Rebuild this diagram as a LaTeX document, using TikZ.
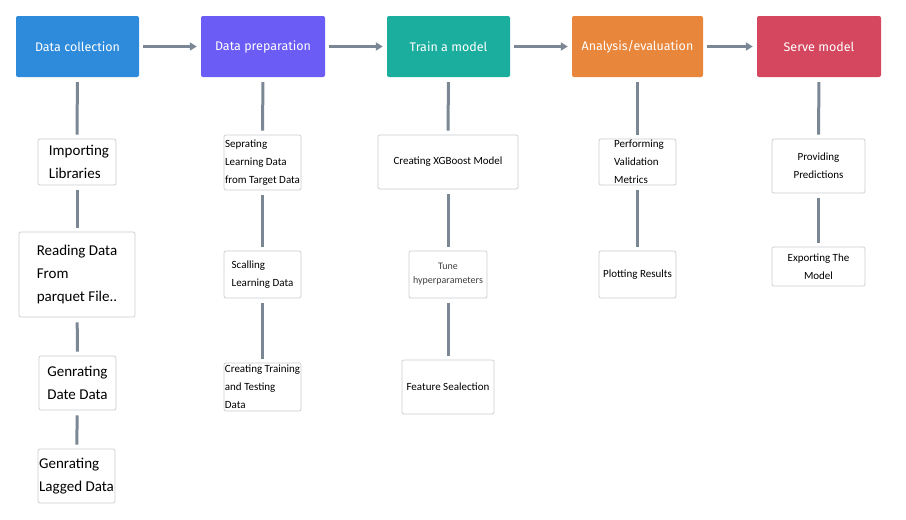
\documentclass[tikz,border=0pt]{standalone}
\usepackage{fontspec}
\setmainfont{Carlito}
\newfontfamily\headfont{Fira Sans}
\usetikzlibrary{arrows.meta}
\definecolor{cblue}{HTML}{2E8BDC}
\definecolor{cpurple}{HTML}{6A5CF5}
\definecolor{cteal}{HTML}{1BAE9E}
\definecolor{corange}{HTML}{E8863B}
\definecolor{cred}{HTML}{D4475E}
\definecolor{conn}{HTML}{7B8794}
\definecolor{bord}{HTML}{C9CDD2}
\tikzset{
  head/.style={rectangle, rounded corners=2pt, draw=none, text=white,
    font=\headfont\fontsize{12.5}{14}\selectfont, inner sep=0pt},
  sub/.style={rectangle, rounded corners=2pt, draw=bord, line width=0.7pt, fill=white,
    font=\fontsize{11}{18}\selectfont, align=left, inner sep=0pt, text=black},
  big/.style={sub, font=\fontsize{15}{23}\selectfont},
  flow/.style={draw=conn, line width=3pt, -{Triangle[length=7pt,width=8pt]}, shorten <=4pt, shorten >=4pt},
  link/.style={draw=conn, line width=3pt, shorten <=5pt, shorten >=4pt}
}
\begin{document}
\begin{tikzpicture}[x=1pt,y=-1pt]
\useasboundingbox (0,0) rectangle (906,520);
% top boxes
\node[head, fill=cblue, minimum width=123pt, minimum height=61pt] (h1) at (77.5,46.5) {Data collection};
\node[head, fill=cpurple, minimum width=124pt, minimum height=61pt] (h2) at (263,46.5) {Data preparation};
\node[head, fill=cteal, minimum width=123pt, minimum height=61pt] (h3) at (448.5,46.5) {Train a model};
\node[head, fill=corange, minimum width=131pt, minimum height=61pt] (h4) at (637.5,46.5) {Analysis/evaluation};
\node[head, fill=cred, minimum width=124pt, minimum height=61pt] (h5) at (819,46.5) {Serve model};
\draw[flow] (h1) -- (h2);
\draw[flow] (h2) -- (h3);
\draw[flow] (h3) -- (h4);
\draw[flow] (h4) -- (h5);
% column 1
\node[big, minimum width=78pt, minimum height=46pt] (a1) at (77,162) {\hspace*{4pt}Importing\\\hspace*{4pt}Libraries};
\node[big, minimum width=116pt, minimum height=85pt] (a2) at (77,274.5) {Reading Data\\From\\parquet File..};
\node[big, minimum width=77pt, minimum height=54pt] (a3) at (77.5,383) {Genrating\\Date Data};
\node[big, minimum width=77pt, minimum height=54pt] (a4) at (76.5,476) {Genrating\\Lagged Data};
\draw[link] (h1) -- (a1);
\draw[link] (a1) -- (a2);
\draw[link] (a2) -- (a3);
\draw[link] (a3) -- (a4);
% column 2
\node[sub, minimum width=77pt, minimum height=55pt] (b1) at (262.5,162.5) {Seprating\\Learning Data\\from Target Data};
\node[sub, minimum width=77pt, minimum height=47pt] (b2) at (262.5,274.5) {Scalling\\Learning Data};
\node[sub, minimum width=77pt, minimum height=48pt] (b3) at (262.5,387) {Creating Training\\and Testing\\Data};
\draw[link] (h2) -- (b1);
\draw[link] (b1) -- (b2);
\draw[link] (b2) -- (b3);
% column 3
\node[sub, minimum width=140pt, minimum height=54pt] (c1) at (448,162) {Creating XGBoost Model};
\node[sub, minimum width=78pt, minimum height=47pt, align=center, text=black!75, font=\fontsize{10}{14}\selectfont] (c2) at (448,274.5) {Tune\\hyperparameters};
\node[sub, minimum width=92pt, minimum height=54pt] (c3) at (448,387) {Feature Sealection};
\draw[link] (h3) -- (c1);
\draw[link] (c1) -- (c2);
\draw[link] (c2) -- (c3);
% column 4
\node[sub, minimum width=77pt, minimum height=46pt] (d1) at (637.5,162) {\hspace*{3pt}Performing\\\hspace*{3pt}Validation\\\hspace*{3pt}Metrics};
\node[sub, minimum width=77pt, minimum height=47pt] (d2) at (637.5,274.5) {Plotting Results};
\draw[link] (h4) -- (d1);
\draw[link] (d1) -- (d2);
% column 5
\node[sub, minimum width=93pt, minimum height=54pt, align=center] (e1) at (818.5,166) {Providing\\Predictions};
\node[sub, minimum width=93pt, minimum height=39pt, align=center] (e2) at (818.5,266.5) {Exporting The\\Model};
\draw[link] (h5) -- (e1);
\draw[link] (e1) -- (e2);
\end{tikzpicture}
\end{document}
